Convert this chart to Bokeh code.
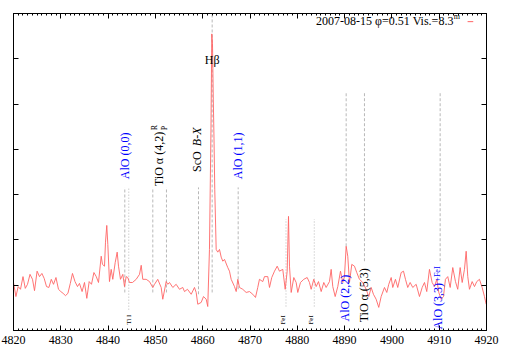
import numpy as np
from bokeh.plotting import figure
from bokeh.models import LinearAxis, FixedTicker, Range1d, Label, ColumnDataSource
from bokeh.embed import file_html
from bokeh.resources import INLINE

# ---------------- data ----------------
wavelength = [
    4820.00, 4820.51, 4820.99, 4821.48, 4822.01, 4822.49, 4822.96, 4823.49, 4824.02, 4824.44,
    4824.99, 4825.50, 4826.00, 4826.49, 4826.98, 4827.48, 4827.99, 4828.46, 4828.98, 4829.51,
    4830.00, 4830.49, 4830.99, 4831.50, 4832.01, 4832.47, 4833.00, 4833.53, 4833.95, 4834.50,
    4835.01, 4835.50, 4836.00, 4836.49, 4837.00, 4837.50, 4837.97, 4838.54, 4838.81, 4839.24,
    4839.45, 4839.72, 4839.94, 4840.29, 4840.65, 4840.99, 4841.50, 4841.92, 4842.20, 4842.62,
    4843.11, 4843.47, 4843.82, 4844.16, 4844.52, 4845.16, 4845.94, 4846.64, 4847.00, 4847.33,
    4848.05, 4848.75, 4849.45, 4849.81, 4850.50, 4851.22, 4851.56, 4852.28, 4852.62, 4852.98,
    4853.68, 4854.39, 4855.09, 4855.79, 4856.15, 4856.78, 4857.57, 4858.26, 4858.62, 4858.96,
    4859.68, 4860.17, 4860.74, 4861.07, 4861.43, 4861.75, 4861.92, 4862.07, 4862.24, 4862.39,
    4862.55, 4862.85, 4863.19, 4863.55, 4863.91, 4864.25, 4864.61, 4865.30, 4865.66, 4866.02,
    4866.72, 4867.08, 4867.42, 4867.78, 4868.47, 4869.19, 4869.89, 4870.59, 4871.16, 4871.64,
    4872.00, 4872.70, 4873.06, 4873.76, 4874.12, 4874.60, 4875.18, 4875.75, 4876.23, 4876.93,
    4877.44, 4877.86, 4878.14, 4878.35, 4878.71, 4879.26, 4879.76, 4880.10, 4880.67, 4881.37,
    4882.09, 4882.57, 4882.93, 4883.48, 4883.99, 4884.48, 4885.05, 4885.60, 4886.10, 4886.80,
    4887.16, 4887.50, 4888.01, 4888.56, 4889.13, 4889.61, 4889.97, 4890.33, 4890.67, 4891.03,
    4891.52, 4892.09, 4892.57, 4893.14, 4893.84, 4894.56, 4895.11, 4895.62, 4896.10, 4896.67,
    4897.22, 4897.73, 4898.43, 4898.92, 4899.34, 4899.85, 4900.18, 4900.75, 4901.24, 4901.96,
    4902.45, 4902.87, 4903.35, 4903.86, 4904.41, 4905.13, 4905.83, 4906.40, 4906.89, 4907.37,
    4907.94, 4908.51, 4909.00, 4909.49, 4909.91, 4910.42, 4910.90, 4911.32, 4911.81, 4912.32,
    4912.87, 4913.44, 4913.92, 4914.43, 4914.86, 4915.34, 4915.70, 4916.04, 4916.40, 4916.97,
    4917.46, 4917.94, 4918.51, 4919.08, 4919.57, 4919.93,
]

flux = [
    1.06, 0.75, 0.97, 0.91, 1.19, 0.93, 1.02, 1.24, 1.13, 0.88,
    1.31, 1.19, 1.26, 1.15, 0.97, 0.95, 1.13, 1.02, 1.17, 0.91,
    0.86, 0.82, 0.77, 0.82, 1.04, 1.26, 1.08, 0.97, 1.04, 0.86,
    1.06, 0.71, 1.08, 1.02, 1.28, 1.19, 1.06, 1.64, 1.46, 1.42,
    1.95, 2.32, 1.90, 1.08, 1.35, 1.13, 1.50, 1.73, 1.42, 1.13,
    1.24, 0.97, 1.19, 1.17, 1.06, 1.06, 1.13, 1.24, 1.44, 1.13,
    1.13, 1.08, 0.95, 1.02, 1.13, 0.95, 0.69, 1.08, 1.02, 1.06,
    0.95, 1.02, 0.91, 0.95, 0.86, 0.91, 0.80, 0.95, 0.84, 0.58,
    0.62, 0.75, 0.69, 0.53, 1.79, 4.45, 6.55, 6.33, 5.11, 4.23,
    3.12, 1.79, 1.73, 1.79, 1.62, 1.53, 1.57, 1.39, 1.31, 1.13,
    0.97, 0.86, 1.13, 0.95, 0.91, 0.84, 0.86, 0.80, 0.73, 0.95,
    1.13, 1.08, 1.19, 1.19, 0.95, 1.17, 1.31, 1.42, 1.31, 1.35,
    0.91, 1.31, 2.52, 1.42, 0.84, 1.17, 1.06, 0.84, 1.06, 1.13,
    1.17, 1.06, 0.91, 1.13, 0.97, 1.08, 0.86, 1.06, 0.95, 1.08,
    1.35, 0.97, 0.75, 0.97, 1.31, 1.06, 1.19, 1.86, 1.64, 1.06,
    1.46, 1.42, 1.28, 1.13, 1.06, 0.91, 0.75, 0.95, 0.80, 0.69,
    0.51, 0.75, 0.95, 0.84, 1.02, 1.17, 0.95, 1.13, 0.95, 1.28,
    1.31, 1.13, 0.95, 1.06, 0.95, 1.02, 0.75, 0.95, 1.06, 0.86,
    1.35, 1.06, 0.97, 1.13, 0.84, 0.69, 0.75, 1.13, 1.19, 0.95,
    1.39, 1.08, 0.91, 1.39, 1.06, 1.35, 1.75, 1.19, 0.91, 1.08,
    0.97, 1.08, 1.13, 0.95, 0.75, 0.58,
]

# identified features: dashed marker lines (wavelength, top, bottom)
dash_wl = [4843.53, 4849.45, 4852.34, 4859.11, 4862.00, 4867.50, 4890.33, 4894.20, 4910.20]
dash_top = [3.16, 3.16, 3.16, 3.16, 7.00, 3.16, 5.27, 5.27, 5.27]
dash_bot = [0.84, 0.84, 0.84, 0.80, 0.84, 0.91, 1.86, 1.53, 1.53]

# atomic lines (dotted)
dot_wl = [4844.37, 4877.61, 4883.59]
dot_top = [3.16, 2.46, 2.46]
dot_bot = [0.46, 0.53, 0.53]

x_ticks = [4820, 4830, 4840, 4850, 4860, 4870, 4880, 4890, 4900, 4910, 4920]
x_minor = list(range(4820, 4921))
y_ticks = [1, 2, 3, 4, 5, 6]

legend_text = "2007-08-15 φ=0.51 Vis.=8.3"

SERIF = "Liberation Serif"
RED = "#ff6464"
BLUE = "#0000ff"
GRAY = "#b8b8b8"

# ---------------- figure ----------------
p = figure(
    frame_width=473, frame_height=317,
    x_range=Range1d(4820, 4920), y_range=Range1d(0, 7),
    output_backend="svg", toolbar_location=None,
    x_axis_location=None, y_axis_location=None,
    min_border_left=13, min_border_top=13, min_border_right=14, min_border_bottom=18,
)
p.background_fill_color = "white"
p.border_fill_color = "white"
p.outline_line_color = "black"
p.outline_line_width = 1
p.xgrid.visible = False
p.ygrid.visible = False


def make_axis(ticks, minor, labels=True):
    ax = LinearAxis(ticker=FixedTicker(ticks=ticks, minor_ticks=minor))
    ax.axis_line_color = "black"
    ax.major_tick_line_color = "black"
    ax.minor_tick_line_color = "black"
    ax.major_tick_in = 5
    ax.major_tick_out = 0
    ax.minor_tick_in = 2
    ax.minor_tick_out = 0
    if labels:
        ax.major_label_text_font = SERIF
        ax.major_label_text_font_size = "12px"
        ax.major_label_text_color = "black"
        ax.major_label_standoff = 5
    else:
        ax.major_label_overrides = {t: "" for t in ticks}
        ax.major_label_text_font_size = "0px"
        ax.major_label_standoff = 0
    return ax


p.add_layout(make_axis(x_ticks, x_minor, True), "below")
p.add_layout(make_axis(x_ticks, x_minor, False), "above")
p.add_layout(make_axis(y_ticks, [], False), "left")
p.add_layout(make_axis(y_ticks, [], False), "right")

# marker lines
p.segment(x0=dash_wl, y0=dash_bot, x1=dash_wl, y1=dash_top,
          line_color=GRAY, line_width=1, line_dash="3 2")
p.segment(x0=dot_wl, y0=dot_bot, x1=dot_wl, y1=dot_top,
          line_color=GRAY, line_width=1, line_dash="1 2")

# spectrum
src = ColumnDataSource(dict(wl=wavelength, f=flux))
p.line("wl", "f", source=src, line_color=RED, line_width=0.9)


def vlabel(x, y, text, color="black", size="12px", style="normal"):
    p.add_layout(Label(x=x, y=y, x_units="data", y_units="data", text=text,
                       angle=np.pi / 2, text_align="left", text_baseline="middle",
                       text_font=SERIF, text_font_size=size, text_color=color,
                       text_font_style=style))


# upper labels
vlabel(4843.5, 3.34, "AlO (0,0)", BLUE)
vlabel(4850.7, 3.19, "TiO α (4,2)")
vlabel(4849.8, 4.42, "R", size="8px")
vlabel(4851.9, 4.42, "P", size="8px")
vlabel(4858.9, 3.50, "ScO")
vlabel(4858.9, 4.07, "B-X", style="italic")
vlabel(4867.4, 3.34, "AlO (1,1)", BLUE)
p.add_layout(Label(x=4862.0, y=5.97, x_units="data", y_units="data", text="Hβ",
                   text_align="center", text_baseline="middle",
                   text_font=SERIF, text_font_size="12px", text_color="black"))

# lower labels
vlabel(4890.0, 0.20, "AlO (2,2)", BLUE)
vlabel(4894.2, 0.18, "TiO α (5,3)")
vlabel(4909.7, 0.02, "AlO (3,3)", BLUE)
vlabel(4909.7, 1.08, "+FeI", BLUE, size="8px")
vlabel(4844.5, 0.13, "Ti I", size="7px")
vlabel(4876.9, 0.13, "FeI", size="7px")
vlabel(4882.9, 0.13, "FeI", size="7px")

# key
p.add_layout(Label(x=4913.0, y=6.83, x_units="data", y_units="data", text=legend_text,
                   text_align="right", text_baseline="middle",
                   text_font=SERIF, text_font_size="12px", text_color="black"))
p.add_layout(Label(x=4913.1, y=6.93, x_units="data", y_units="data", text="m",
                   text_align="left", text_baseline="middle",
                   text_font=SERIF, text_font_size="8px", text_color="black"))
p.segment(x0=[4916.0], y0=[6.82], x1=[4917.2], y1=[6.82], line_color=RED, line_width=1)

open("out.html", "w").write(file_html(p, INLINE))
